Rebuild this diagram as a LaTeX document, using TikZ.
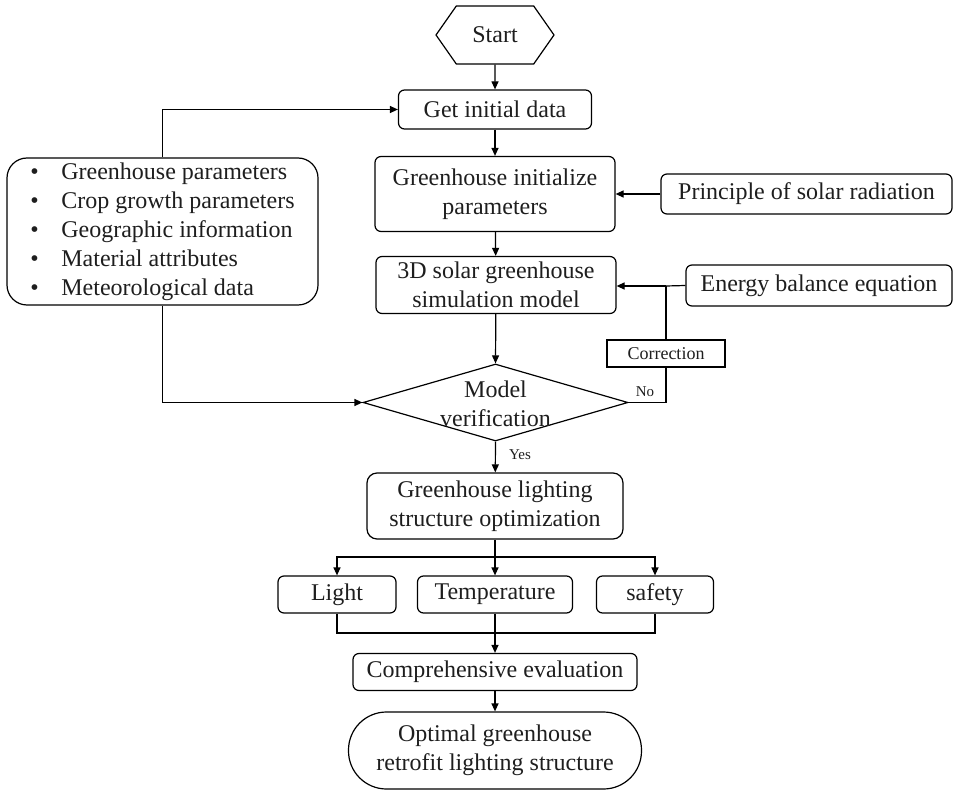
\documentclass[tikz,border=0pt]{standalone}
\usepackage{fontspec}
\setmainfont{Liberation Serif}
\usetikzlibrary{arrows.meta,shapes.geometric,shapes.symbols,calc}
\definecolor{txt}{HTML}{1E1E1E}
\begin{document}
\begin{tikzpicture}[x=1pt,y=-1pt,
  every node/.style={text=txt},
  box/.style={draw=black,line width=1.2pt,rounded corners=6pt,inner sep=0pt,align=center,
     font=\fontsize{24}{29}\selectfont},
  sqbox/.style={draw=black,line width=1.2pt,inner sep=0pt,align=center,font=\fontsize{18}{22}\selectfont},
  conn/.style={line width=1.2pt,draw=black},
  arr/.style={conn,-{Triangle[length=8pt,width=7pt]}},
  small/.style={font=\fontsize{15}{18}\selectfont,inner sep=0pt}
]
\useasboundingbox (0,0) rectangle (958,791);

\node[draw=black,line width=1.2pt,shape=signal,signal to=east and west,signal pointer angle=110,
  minimum width=118pt,minimum height=58pt,inner sep=0pt,font=\fontsize{24}{29}\selectfont] (start) at (495,35) {Start};
\node[box,minimum width=193pt,minimum height=39pt] (get) at (495,109.5) {Get initial data};
\node[box,minimum width=240pt,minimum height=75pt] (init) at (495,194) {Greenhouse initialize\\parameters};
\node[box,minimum width=291pt,minimum height=40pt] (solar) at (806.5,194) {Principle of solar radiation};
\node[box,minimum width=240pt,minimum height=57pt] (sim) at (496,285) {3D solar greenhouse\\simulation model};
\node[box,minimum width=266pt,minimum height=41pt] (energy) at (819,285.5) {Energy balance equation};
\node[sqbox,minimum width=118pt,minimum height=27pt] (corr) at (666,353.5) {Correction};
\node[draw=black,line width=1.2pt,shape=diamond,inner sep=0pt,minimum width=265pt,minimum height=77pt] (ver) at (495.5,402.5) {};
\node[align=center,inner sep=0pt,font=\fontsize{24}{29}\selectfont] (vertext) at (495.5,403.5) {Model\\verification};
\node[box,rounded corners=20pt,minimum width=311pt,minimum height=147pt,align=left] (params) at (162.5,231.5)
  {\makebox[31pt][l]{•}Greenhouse parameters\\
   \makebox[31pt][l]{•}Crop growth parameters\\
   \makebox[31pt][l]{•}Geographic information\\
   \makebox[31pt][l]{•}Material attributes\\
   \makebox[31pt][l]{•}Meteorological data};
\node[box,rounded corners=10pt,minimum width=256pt,minimum height=66pt] (opt) at (495,506) {Greenhouse lighting\\structure optimization};
\node[box,minimum width=118pt,minimum height=37pt] (light) at (337,594.5) {Light};
\node[box,minimum width=155pt,minimum height=37pt] (temp) at (495,594.5) {Temperature};
\node[box,minimum width=117pt,minimum height=37pt] (safety) at (655,594.5) {safety};
\node[box,minimum width=284pt,minimum height=37pt] (comp) at (495,672) {Comprehensive evaluation};
\node[box,rounded corners=38pt,minimum width=293pt,minimum height=77pt] (final) at (495,750.5) {Optimal greenhouse\\retrofit lighting structure};

\node[small] (yes) at (520,455) {Yes};
\node[small] (no) at (645,392) {No};

\coordinate (j) at (666,286);
\coordinate (b) at (495,557);
\coordinate (m) at (495,633);

\draw[arr] (start) -- (get);
\draw[arr] (get) -- (init);
\draw[arr] (init) -- (sim);
\draw[arr] (sim) -- (ver.north);
\draw[arr] (ver.south) -- (opt);
\draw[arr] (solar.west) -- (init.east |- solar.west);
\draw[conn] (energy.west) -- (j);
\draw[arr] (j) -- (sim.east |- j);
\draw[conn] (corr.north) -- (j);
\draw[conn] (ver.east) -| (corr.south);
\draw[arr] (params.north) |- (get.west);
\draw[arr] (params.south) |- (ver.west);
\draw[conn] (opt.south) -- (b);
\draw[arr] (b) -| (light.north);
\draw[arr] (b) -| (safety.north);
\draw[arr] (b) -- (temp.north);
\draw[conn] (light.south) |- (m);
\draw[conn] (safety.south) |- (m);
\draw[arr] (temp.south) -- (comp.north);
\draw[arr] (comp) -- (final);
\end{tikzpicture}
\end{document}
